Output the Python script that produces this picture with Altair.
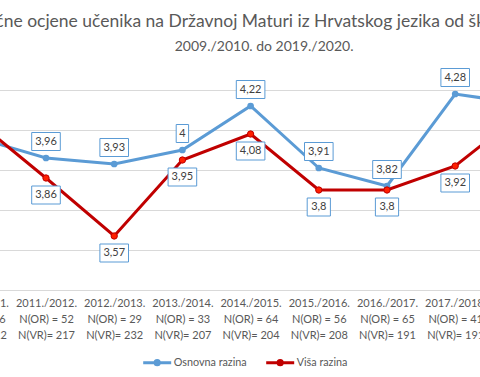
import json
import altair as alt
import pandas as pd

# ---- data (visible part of the chart) ----
seasons = ["2010./2011.", "2011./2012.", "2012./2013.", "2013./2014.", "2014./2015.",
           "2015./2016.", "2016./2017.", "2017./2018.", "2018./2019."]
n_or = ["N(OR) = 46", "N(OR) = 52", "N(OR) = 29", "N(OR) = 33", "N(OR) =  64",
        "N(OR) = 56", "N(OR) = 65", "N(OR) =  41", "N(OR) = 40"]
n_vr = ["N(VR)= 222", "N(VR)= 217", "N(VR)= 232", "N(VR)= 207", "N(VR)= 204",
        "N(VR)= 208", "N(VR)= 191", "N(VR)= 191", "N(VR)= 199"]
osnovna = [4.06, 3.96, 3.93, 4.00, 4.22, 3.91, 3.82, 4.28, 4.23]
visa = [4.14, 3.86, 3.57, 3.95, 4.08, 3.80, 3.80, 3.92, 4.19]
series = ["Osnovna razina", "Viša razina"]
colors = ["#5B9BD5", "#C00000"]
title_line1 = "Prosječne ocjene učenika na Državnoj Maturi iz Hrvatskog jezika od školske godine"
title_line2 = "2009./2010. do 2019./2020."
grid_values = [3.5, 3.7, 3.9, 4.1, 4.3]

rows = []
for k, s in enumerate(seasons):
    rows.append({"idx": k + 1, "season": s, "series": series[0], "value": osnovna[k]})
    rows.append({"idx": k + 1, "season": s, "series": series[1], "value": visa[k]})
df = pd.DataFrame(rows)

label_arrays = [[s, o, v] for s, o, v in zip(seasons, n_or, n_vr)]
label_expr = json.dumps(label_arrays) + "[datum.value - 1]"

FONT = "Lato"

x_enc = alt.X(
    "idx:Q",
    scale=alt.Scale(domain=[0.5, 9.5], nice=False, zero=False),
    axis=alt.Axis(values=list(range(1, len(seasons) + 1)), labelExpr=label_expr, title=None,
                  grid=False, ticks=False, domainColor="#D9D9D9", domainWidth=1,
                  labelColor="#595959", labelFont=FONT, labelFontSize=11, labelLineHeight=16,
                  labelPadding=7, labelOverlap=False, labelFlush=False, labelBound=False),
)
y_enc = alt.Y(
    "value:Q",
    scale=alt.Scale(domain=[3.3, 4.3], nice=False, zero=False),
    axis=alt.Axis(values=grid_values, labels=False, ticks=False, domain=False, title=None,
                  gridColor="#D9D9D9", gridWidth=1),
)

base = alt.Chart(df)

lines = base.mark_line(strokeWidth=3).encode(
    x=x_enc, y=y_enc,
    color=alt.Color("series:N", scale=alt.Scale(domain=series, range=colors),
                    legend=alt.Legend(title=None, orient="none", legendX=198, legendY=257,
                                      direction="horizontal",
                                      symbolType="M-1,0L1,0M-0.15,0A0.15,0.15,0,1,1,0.15,0A0.15,0.15,0,1,1,-0.15,0",
                                      symbolSize=784, symbolStrokeWidth=3,
                                      labelFont=FONT, labelFontSize=10.8, labelColor="#595959",
                                      labelOffset=1, columnPadding=12)),
)

blue_pts = base.transform_filter(alt.datum.series == series[0]).mark_circle(
    size=45, color=colors[0], opacity=1).encode(x=x_enc, y=y_enc)
red_pts = base.transform_filter(alt.datum.series == series[1]).mark_point(
    shape="circle", filled=True, size=40, fill="#FF1F00", stroke="#C00000", strokeWidth=1,
    opacity=1).encode(x=x_enc, y=y_enc)


def label_layers(name, offset):
    lab = base.transform_filter(alt.datum.series == name).transform_calculate(
        label="replace(toString(datum.value), '.', ',')"
    ).transform_calculate(
        w2="(7 + 5.4 * length(datum.label)) / 2"
    ).transform_calculate(
        box="'M' + (-datum.w2) + ',-9L' + datum.w2 + ',-9L' + datum.w2 + ',9L' + (-datum.w2) + ',9Z'"
    )
    boxes = lab.mark_point(size=4, filled=True, fill="white", stroke="#5B9BD5", strokeWidth=1,
                           opacity=1, yOffset=offset).encode(
        x=x_enc, y=y_enc, shape=alt.Shape("box:N", scale=None))
    texts = lab.mark_text(font=FONT, fontSize=11, color="#404040", dy=offset,
                          baseline="middle").encode(x=x_enc, y=y_enc, text="label:N")
    return [boxes, texts]


chart = alt.layer(
    lines, blue_pts, red_pts,
    *label_layers(series[0], -16.5),
    *label_layers(series[1], 17),
).properties(
    width=613.8, height=200,
    padding={"left": -56.3, "top": 90, "right": -77.5, "bottom": 87},
    autosize=alt.AutoSizeParams(type="none"),
    title=alt.TitleParams(text=title_line1, subtitle=title_line2, font=FONT, fontSize=17.5,
                          fontWeight="normal", color="#595959", subtitleFont=FONT,
                          subtitleFontSize=14, subtitleColor="#595959", subtitlePadding=9,
                          offset=13, dx=13.5, anchor="middle"),
).configure_view(stroke=None).configure(background="white")

chart.save("out.html", embed_options={"renderer": "svg", "actions": False})
